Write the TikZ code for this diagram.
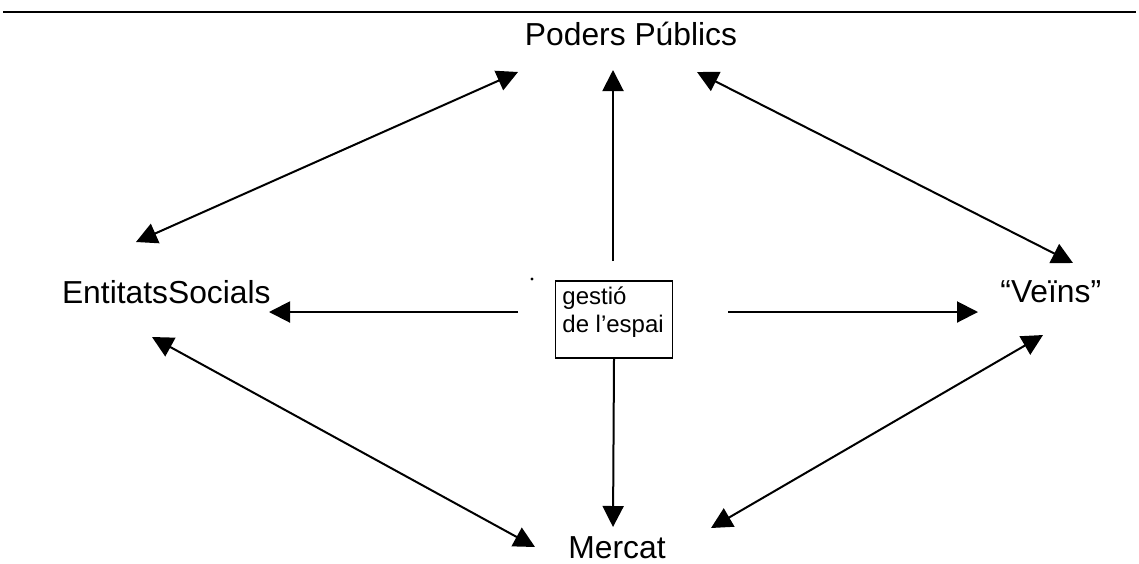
\documentclass[tikz,border=0pt]{standalone}
\usepackage{fontspec}
\setmainfont{Liberation Sans}
\usetikzlibrary{arrows.meta}
\tikzset{
  lbl/.style={inner sep=0pt, font=\fontsize{15.9}{19}\selectfont},
  boxtxt/.style={inner sep=0pt, align=left, font=\fontsize{12}{14}\selectfont},
  frame/.style={draw, line width=0.9pt, inner sep=0pt, minimum width=58.5pt, minimum height=38.5pt},
  conn/.style={line width=1pt},
  arr/.style={conn, -{Triangle[length=10.5pt,width=10.5pt]}},
  darr/.style={conn, {Triangle[length=10.5pt,width=10.5pt]}-{Triangle[length=10.5pt,width=10.5pt]}},
}
\begin{document}
\begin{tikzpicture}[x=0.5pt,y=-0.5pt]
\useasboundingbox (0,0) rectangle (1139,563);
% top rule
\coordinate (ruleL) at (3,12);
\coordinate (ruleR) at (1136,12);
\draw[line width=1.4pt] (ruleL) -- (ruleR);
% labels
\node[lbl, anchor=base] (P) at (631,45) {Poders Públics};
\node[lbl, anchor=base east] (E) at (271,303) {EntitatsSocials};
\node[lbl, anchor=base west] (V) at (1000,302) {“Veïns”};
\node[lbl, anchor=base] (M) at (617,558) {Mercat};
% central box
\node[frame] (box) at (614,319.5) {};
\node[boxtxt, anchor=north west] (bt) at (562,286) {gestió\\de l’espai};
\fill (532,279) circle (0.8pt);
% arrow endpoints
\coordinate (upS) at (613,261);
\coordinate (upT) at (613,70);
\coordinate (dnT) at (613,527);
\coordinate (lfS) at (518,312);
\coordinate (lfT) at (269,312);
\coordinate (rtS) at (728,312);
\coordinate (rtT) at (978,312);
\coordinate (EP1) at (136,242);
\coordinate (EP2) at (518,72);
\coordinate (PV1) at (697,72);
\coordinate (PV2) at (1073,263);
\coordinate (EM1) at (152,337);
\coordinate (EM2) at (535,547);
\coordinate (MV1) at (711,528);
\coordinate (MV2) at (1043,335);
% connectors
\draw[arr] (upS) -- (upT);
\draw[arr] (box.south) -- (dnT);
\draw[arr] (lfS) -- (lfT);
\draw[arr] (rtS) -- (rtT);
\draw[darr] (EP1) -- (EP2);
\draw[darr] (PV1) -- (PV2);
\draw[darr] (EM1) -- (EM2);
\draw[darr] (MV1) -- (MV2);
\end{tikzpicture}
\end{document}
